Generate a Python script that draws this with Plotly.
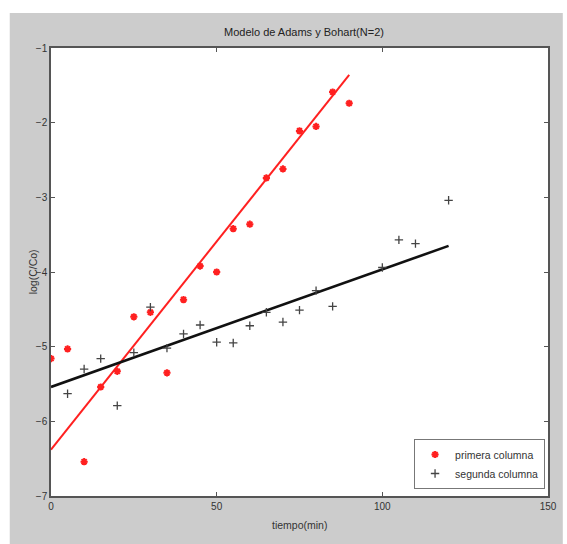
import plotly.graph_objects as go

# Measured data: time (min) vs log(C/Co)
t_primera = [0, 5, 10, 15, 20, 25, 30, 35, 40, 45, 50, 55, 60, 65, 70, 75, 80, 85, 90]
y_primera = [-5.16, -5.03, -6.54, -5.54, -5.33, -4.60, -4.54, -5.35, -4.37, -3.92,
             -4.00, -3.42, -3.36, -2.74, -2.62, -2.11, -2.05, -1.59, -1.74]

t_segunda = [5, 10, 15, 20, 25, 30, 35, 40, 45, 50, 55, 60, 65, 70, 75, 80, 85,
             100, 105, 110, 120]
y_segunda = [-5.63, -5.30, -5.16, -5.79, -5.08, -4.47, -5.02, -4.83, -4.71, -4.94,
             -4.95, -4.72, -4.54, -4.67, -4.51, -4.25, -4.46, -3.94, -3.57, -3.62, -3.04]

# Linear fits (end points)
fit1_t = [0, 90]
fit1_y = [-6.38, -1.36]
fit2_t = [0, 120]
fit2_y = [-5.54, -3.65]

x_ticks = [0, 50, 100, 150]
y_ticks = [-7, -6, -5, -4, -3, -2, -1]

FONT = "Liberation Sans"
W, H = 567, 544
L, R, T, B = 51, 10, 48, 48
pw, ph = W - L - R, H - T - B

fig = go.Figure()

fig.add_trace(go.Scatter(x=fit1_t, y=fit1_y, mode="lines",
                         line=dict(color="#ff2020", width=2), showlegend=False,
                         hoverinfo="skip"))
fig.add_trace(go.Scatter(x=fit2_t, y=fit2_y, mode="lines",
                         line=dict(color="#111111", width=2.6), showlegend=False,
                         hoverinfo="skip"))
fig.add_trace(go.Scatter(x=t_primera, y=y_primera, mode="markers", name="primera columna",
                         marker=dict(symbol="asterisk-open", size=6, color="#ff2020",
                                     line=dict(color="#ff2020", width=2))))
fig.add_trace(go.Scatter(x=t_segunda, y=y_segunda, mode="markers", name="segunda columna",
                         marker=dict(symbol="cross-thin-open", size=6, color="#444444",
                                     line=dict(color="#444444", width=1.3))))

axis_common = dict(
    showgrid=False, zeroline=False, showline=True, mirror="ticks",
    linecolor="#555555", linewidth=1.5, ticks="inside", ticklen=4,
    tickcolor="#555555", tickwidth=1,
    tickfont=dict(family=FONT, size=10, color="#333333"),
)

fig.update_layout(
    width=W, height=H,
    margin=dict(l=L, r=R, t=T, b=B),
    paper_bgcolor="white",
    plot_bgcolor="white",
    font=dict(family=FONT, size=10, color="#333333"),
    title=dict(text="Modelo de Adams y Bohart(N=2)", x=L / W + 0.5 * pw / W,
               xanchor="center", y=1 - 32 / H, yanchor="middle",
               font=dict(family=FONT, size=11, color="#222222")),
    xaxis=dict(range=[0, 150], tickvals=x_ticks, **axis_common),
    yaxis=dict(range=[-7, -1], tickvals=y_ticks, **axis_common),
    legend=dict(x=(554 - L) / pw, y=(496 - 489) / ph,
                xanchor="right", yanchor="bottom",
                bgcolor="white", bordercolor="#777777", borderwidth=1,
                font=dict(family=FONT, size=10.5, color="#333333"),
                tracegroupgap=0),
    shapes=[
        # grey figure frame
        dict(type="rect", xref="paper", yref="paper",
             x0=(9 - L) / pw, x1=(W - L) / pw + 0.01,
             y0=-B / ph - 0.01, y1=1 + (T - 13) / ph,
             fillcolor="#cccccc", line=dict(width=0), layer="below"),
        # white axes area
        dict(type="rect", xref="paper", yref="paper",
             x0=0, x1=1, y0=0, y1=1,
             fillcolor="white", line=dict(width=0), layer="below"),
    ],
    annotations=[
        dict(text="log(C/Co)", xref="paper", yref="paper",
             x=(33 - L) / pw, y=0.5, textangle=-90, showarrow=False,
             xanchor="center", yanchor="middle",
             font=dict(family=FONT, size=10.5, color="#333333")),
        dict(text="tiempo(min)", xref="paper", yref="paper",
             x=0.5, y=-(525 - 496) / ph, showarrow=False,
             xanchor="center", yanchor="middle",
             font=dict(family=FONT, size=10.5, color="#333333")),
    ],
)

fig.write_html("out.html")
